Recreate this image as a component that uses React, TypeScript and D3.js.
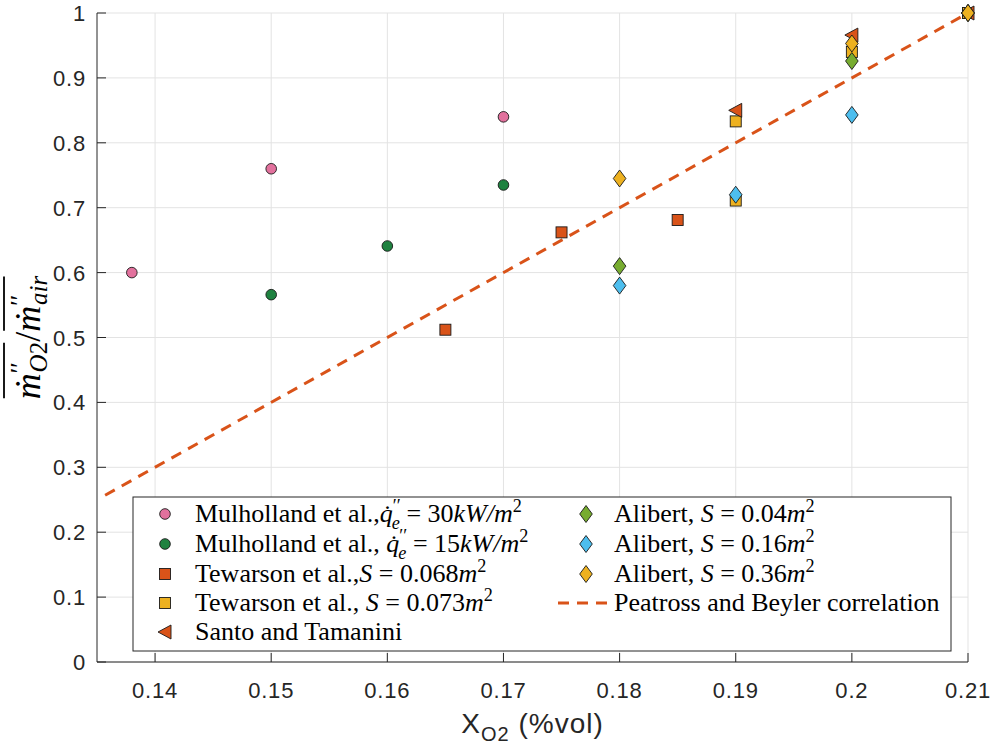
import React, { useLayoutEffect, useRef, useState } from "react";
import * as d3 from "d3";

const W = 996, H = 755;
const M = { left: 97, right: 28, top: 13, bottom: 93 };

const xTicks = [0.14, 0.15, 0.16, 0.17, 0.18, 0.19, 0.2, 0.21];
const yTicks = [0, 0.1, 0.2, 0.3, 0.4, 0.5, 0.6, 0.7, 0.8, 0.9, 1];

// series data
const mulholland30X = [0.138, 0.15, 0.17, 0.21];
const mulholland30Y = [0.6, 0.76, 0.84, 1.0];
const mulholland15X = [0.15, 0.16, 0.17, 0.21];
const mulholland15Y = [0.566, 0.641, 0.735, 1.0];
const tewarson068X = [0.165, 0.175, 0.185, 0.21];
const tewarson068Y = [0.512, 0.662, 0.681, 1.0];
const tewarson073X = [0.19, 0.19, 0.2, 0.21];
const tewarson073Y = [0.833, 0.711, 0.94, 1.0];
const santoX = [0.19, 0.2, 0.21];
const santoY = [0.85, 0.966, 1.0];
const alibert004X = [0.18, 0.2, 0.21];
const alibert004Y = [0.61, 0.926, 1.0];
const alibert016X = [0.18, 0.19, 0.2, 0.21];
const alibert016Y = [0.58, 0.72, 0.843, 1.0];
const alibert036X = [0.18, 0.2, 0.21];
const alibert036Y = [0.745, 0.953, 1.0];
const peatrossX = [0.1357, 0.21];
const peatrossY = [0.257, 1.0];

const x = d3.scaleLinear().domain([0.135, 0.21]).range([M.left, W - M.right]);
const y = d3.scaleLinear().domain([0, 1]).range([H - M.bottom, M.top]);

type Shape = "circle" | "square" | "diamond" | "triangle";

function Marker({ shape, cx, cy, fill }: { shape: Shape; cx: number; cy: number; fill: string }) {
  const st = { fill, stroke: "#1a1a1a", strokeWidth: 0.9 };
  if (shape === "circle") return <circle cx={cx} cy={cy} r={5.3} {...st} />;
  if (shape === "square") return <rect x={cx - 5.5} y={cy - 5.5} width={11} height={11} {...st} />;
  if (shape === "diamond")
    return <path d={`M${cx},${cy - 8.5}L${cx + 6.3},${cy}L${cx},${cy + 8.5}L${cx - 6.3},${cy}Z`} {...st} />;
  return <path d={`M${cx - 7},${cy}L${cx + 6},${cy - 7}L${cx + 6},${cy + 7}Z`} {...st} />;
}

type Part = { t: string; i?: boolean; s?: "sup" | "sub"; dx?: number };

const sq: Part[] = [{ t: "m", i: true }, { t: "2", s: "sup" }];
const qdot = (v: string, sp: string): Part[] => [
  { t: sp },
  { t: "q̇", i: true },
  { t: "′′", s: "sup" },
  { t: "e", i: true, s: "sub", dx: -9 },
  { t: " = " + v },
  { t: "kW/m", i: true },
  { t: "2", s: "sup" },
];
const sPart = (v: string, sp: string): Part[] => [{ t: sp }, { t: "S", i: true }, { t: " = " + v }, ...sq];

const series = [
  { name: "m30", xs: mulholland30X, ys: mulholland30Y, shape: "circle" as Shape, color: "#e2719d", label: [{ t: "Mulholland et al.," }, ...qdot("30", "")] },
  { name: "m15", xs: mulholland15X, ys: mulholland15Y, shape: "circle" as Shape, color: "#1f8240", label: [{ t: "Mulholland et al.," }, ...qdot("15", " ")] },
  { name: "t068", xs: tewarson068X, ys: tewarson068Y, shape: "square" as Shape, color: "#d95319", label: [{ t: "Tewarson et al.," }, ...sPart("0.068", "")] },
  { name: "t073", xs: tewarson073X, ys: tewarson073Y, shape: "square" as Shape, color: "#edb120", label: [{ t: "Tewarson et al.," }, ...sPart("0.073", " ")] },
  { name: "santo", xs: santoX, ys: santoY, shape: "triangle" as Shape, color: "#d95319", label: [{ t: "Santo and Tamanini" }] },
  { name: "a004", xs: alibert004X, ys: alibert004Y, shape: "diamond" as Shape, color: "#77ac30", label: [{ t: "Alibert," }, ...sPart("0.04", " ")] },
  { name: "a016", xs: alibert016X, ys: alibert016Y, shape: "diamond" as Shape, color: "#4dbeee", label: [{ t: "Alibert," }, ...sPart("0.16", " ")] },
  { name: "a036", xs: alibert036X, ys: alibert036Y, shape: "diamond" as Shape, color: "#edb120", label: [{ t: "Alibert," }, ...sPart("0.36", " ")] },
];

function MathText({ parts, x0, y0, size }: { parts: Part[]; x0: number; y0: number; size: number }) {
  let prev: string | undefined = undefined;
  const off = (s?: string) => (s === "sup" ? -0.4 * size : s === "sub" ? 0.25 * size : 0);
  return (
    <text x={x0} y={y0} fontFamily="'Liberation Serif', serif" fontSize={size} fill="#000" style={{ whiteSpace: "pre" }}>
      {parts.map((p, k) => {
        const cur = p.s;
        const dy = off(cur) - off(prev);
        prev = cur;
        return (
          <tspan key={k} dy={dy} dx={p.dx || 0} fontStyle={p.i ? "italic" : "normal"} fontSize={p.s ? size * 0.7 : size}>
            {p.t}
          </tspan>
        );
      })}
    </text>
  );
}

function YLabel({ cx, cy }: { cx: number; cy: number }) {
  const ref = useRef<SVGTextElement>(null);
  const [ol, setOl] = useState<number[][] | null>(null);
  const fs = 36, ss = 25;
  useLayoutEffect(() => {
    const t = ref.current;
    if (!t) return;
    const sp = Array.from(t.querySelectorAll("tspan")) as unknown as SVGGraphicsElement[];
    const bb = sp.map((s) => s.getBBox());
    const seg = (idx: number[]) => {
      const x0 = d3.min(idx, (i) => bb[i].x) as number;
      const x1 = d3.max(idx, (i) => bb[i].x + bb[i].width) as number;
      return [x0 + 1, x1 - 1];
    };
    const top = -fs * 1.0;
    setOl([
      [...seg([0, 1, 2, 3]), top],
      [...seg([5, 6, 7]), top],
    ]);
  }, []);
  return (
    <g transform={`translate(${cx}, ${cy}) rotate(-90)`}>
      <text ref={ref} x={0} y={0} textAnchor="middle" fontFamily="'Liberation Serif', serif" fontSize={fs} fill="#000" style={{ whiteSpace: "pre" }}>
        <tspan fontStyle="italic">ṁ</tspan>
        <tspan dy={-12} fontSize={ss}>′′</tspan>
        <tspan dy={19} dx={-10} fontSize={ss} fontStyle="italic">O</tspan>
        <tspan dy={0} fontSize={ss}>2</tspan>
        <tspan dy={-7}>/</tspan>
        <tspan fontStyle="italic">ṁ</tspan>
        <tspan dy={-12} fontSize={ss}>′′</tspan>
        <tspan dy={19} dx={-10} fontSize={ss} fontStyle="italic">air</tspan>
      </text>
      {ol &&
        ol.map((o, i) => <line key={i} x1={o[0]} x2={o[1]} y1={o[2]} y2={o[2]} stroke="#000" strokeWidth={1.8} />)}
    </g>
  );
}

export default function App() {
  const line = d3.line<number>().x((d) => x(d)).y((_, i) => y(peatrossY[i]));
  const lx0 = 133, ly0 = 497, lx1 = 951, ly1 = 651;
  const rowY = [514, 544, 574, 603, 632];
  const col1Marker = 165, col1Text = 195, col2Marker = 586, col2Text = 614;
  const fs = 26;
  const tickFont = "'Liberation Sans', Arial, sans-serif";
  return (
    <svg width={W} height={H} style={{ position: "absolute", left: 0, top: 0, background: "#fff" }}>
      <rect width={W} height={H} fill="#fff" />
      {/* grid */}
      {xTicks.map((t) => (
        <line key={"gx" + t} x1={x(t)} x2={x(t)} y1={y(0)} y2={y(1)} stroke="#e3e3e3" strokeWidth={1} />
      ))}
      {yTicks.map((t) => (
        <line key={"gy" + t} x1={x(0.135)} x2={x(0.21)} y1={y(t)} y2={y(t)} stroke="#e3e3e3" strokeWidth={1} />
      ))}
      {/* axes */}
      <line x1={x(0.135)} x2={x(0.135)} y1={y(0)} y2={y(1)} stroke="#262626" strokeWidth={1} />
      <line x1={x(0.135)} x2={x(0.21)} y1={y(0)} y2={y(0)} stroke="#262626" strokeWidth={1} />
      {xTicks.map((t) => (
        <g key={"xt" + t}>
          <line x1={x(t)} x2={x(t)} y1={y(0)} y2={y(0) - 9} stroke="#262626" />
          <text x={x(t)} y={y(0) + 36} textAnchor="middle" fontFamily={tickFont} fontSize={22} letterSpacing={0.8} fill="#262626">
            {String(t)}
          </text>
        </g>
      ))}
      {yTicks.map((t) => (
        <g key={"yt" + t}>
          <line x1={x(0.135)} x2={x(0.135) + 9} y1={y(t)} y2={y(t)} stroke="#262626" />
          <text x={x(0.135) - 11} y={y(t) + 8} textAnchor="end" fontFamily={tickFont} fontSize={22} letterSpacing={0.8} fill="#262626">
            {String(t)}
          </text>
        </g>
      ))}
      {/* correlation line */}
      <path d={line(peatrossX) || ""} fill="none" stroke="#d95319" strokeWidth={3} strokeDasharray="11 8" />
      {/* markers */}
      {series.map((s) =>
        s.xs.map((xv, i) => <Marker key={s.name + i} shape={s.shape} cx={x(xv)} cy={y(s.ys[i])} fill={s.color} />)
      )}
      {/* legend */}
      <rect x={lx0} y={ly0} width={lx1 - lx0} height={ly1 - ly0} fill="#fff" stroke="#262626" strokeWidth={1} />
      {series.slice(0, 5).map((s, i) => (
        <g key={"l1" + i}>
          <Marker shape={s.shape} cx={col1Marker} cy={rowY[i]} fill={s.color} />
          <MathText parts={s.label} x0={col1Text} y0={rowY[i] + 8} size={fs} />
        </g>
      ))}
      {series.slice(5).map((s, i) => (
        <g key={"l2" + i}>
          <Marker shape={s.shape} cx={col2Marker} cy={rowY[i]} fill={s.color} />
          <MathText parts={s.label} x0={col2Text} y0={rowY[i] + 8} size={fs} />
        </g>
      ))}
      <line x1={558} x2={611} y1={rowY[3]} y2={rowY[3]} stroke="#d95319" strokeWidth={3} strokeDasharray="11 8" />
      <MathText parts={[{ t: "Peatross and Beyler correlation" }]} x0={col2Text} y0={rowY[3] + 8} size={fs} />
      {/* x label */}
      <text x={(x(0.135) + x(0.21)) / 2} y={733} textAnchor="middle" fontFamily={tickFont} fontSize={28} letterSpacing={1} fill="#262626">
        X<tspan dy={8} fontSize={20}>O2</tspan><tspan dy={-8}> (%vol)</tspan>
      </text>
      {/* y label */}
      <YLabel cx={40} cy={(y(0) + y(1)) / 2} />
    </svg>
  );
}
